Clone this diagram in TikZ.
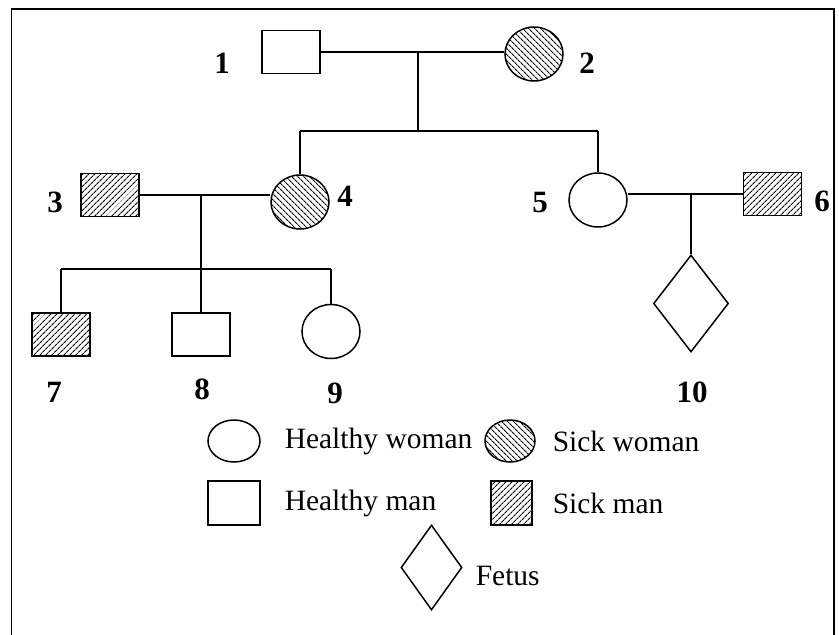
\documentclass[tikz,border=0pt]{standalone}
\usepackage{fontspec}
\setmainfont{Liberation Serif}
\usetikzlibrary{shapes.geometric,patterns.meta}
\begin{document}
\begin{tikzpicture}[x=1pt,y=-1pt,line width=1.5pt,
  male/.style={draw,rectangle,inner sep=0pt,minimum width=58pt,minimum height=43pt},
  female/.style={draw,ellipse,inner sep=0pt,minimum width=58pt,minimum height=54pt},
  fetus/.style={draw,diamond,inner sep=0pt,minimum width=75pt,minimum height=97pt},
  sickm/.style={pattern={Lines[angle=45,distance=4pt,line width=1.1pt]}},
  sickf/.style={pattern={Lines[angle=-45,distance=4pt,line width=1.1pt]}},
  num/.style={font=\fontsize{31}{33}\selectfont\bfseries,inner sep=0pt},
  legtext/.style={font=\fontsize{29.5}{31}\selectfont,inner sep=0pt,anchor=west}]
\useasboundingbox (0,0) rectangle (839,635);
\draw[line width=1.6pt] (11.5,640) -- (11.5,9) -- (834,9) -- (834,640);
% generation 1
\node[male] (n1) at (291,52) {};
\node[female,sickf] (n2) at (534,54) {};
\node[num] (l1) at (222,63) {1};
\node[num] (l2) at (587,63) {2};
\draw (n1.east) -- (n1.east -| n2.west);
\coordinate (m12) at (418,52);
\coordinate (s1) at (418,131);
\coordinate (s1L) at (300,131);
\coordinate (s1R) at (598,131);
\draw (m12) -- (s1);
\draw (s1L) -- (s1R);
% generation 2
\node[male,sickm] (n3) at (110,195) {};
\node[female,sickf] (n4) at (300,202) {};
\node[female] (n5) at (598,200) {};
\node[male,sickm] (n6) at (772.5,194) {};
\node[num] (l3) at (55,202) {3};
\node[num] (l4) at (345,196) {4};
\node[num] (l5) at (540,202) {5};
\node[num] (l6) at (822,201) {6};
\draw (s1L) -- (n4.north);
\draw (s1R) -- (n5.north);
\draw (n3.east) -- (n3.east -| n4.west);
\draw (n6.west) -- (n6.west -| n5.east);
\coordinate (m34) at (201,195);
\coordinate (s2) at (201,269);
\coordinate (s2L) at (61,269);
\coordinate (s2R) at (331,269);
\coordinate (m56) at (691,194);
\draw (m34) -- (s2);
\draw (s2L) -- (s2R);
% generation 3
\node[male,sickm] (n7) at (61,334.5) {};
\node[male] (n8) at (201,334.5) {};
\node[female] (n9) at (331,331.5) {};
\node[fetus] (n10) at (691,303.5) {};
\node[num] (l7) at (54,392) {7};
\node[num] (l8) at (202,389) {8};
\node[num] (l9) at (335,393) {9};
\node[num] (l10) at (692,392) {10};
\draw (s2L) -- (n7.north);
\draw (s2) -- (n8.north);
\draw (s2R) -- (n9.north);
\draw (m56) -- (n10.north);
% legend
\node[draw,ellipse,inner sep=0pt,minimum width=52pt,minimum height=42pt] (k1) at (234,441) {};
\node[legtext] (t1) at (284,441) {Healthy woman};
\node[draw,ellipse,inner sep=0pt,minimum width=50pt,minimum height=42pt,sickf] (k2) at (510,441) {};
\node[legtext] (t2) at (552,441) {Sick woman};
\node[draw,rectangle,inner sep=0pt,minimum width=52pt,minimum height=44pt] (k3) at (234,503) {};
\node[legtext] (t3) at (284,503) {Healthy man};
\node[draw,rectangle,inner sep=0pt,minimum width=41pt,minimum height=44pt,sickm] (k4) at (511.5,503) {};
\node[legtext] (t4) at (552,503) {Sick man};
\node[draw,diamond,inner sep=0pt,minimum width=61pt,minimum height=85pt] (k5) at (431.5,567.5) {};
\node[legtext] (t5) at (475,576) {Fetus};
\end{tikzpicture}
\end{document}
